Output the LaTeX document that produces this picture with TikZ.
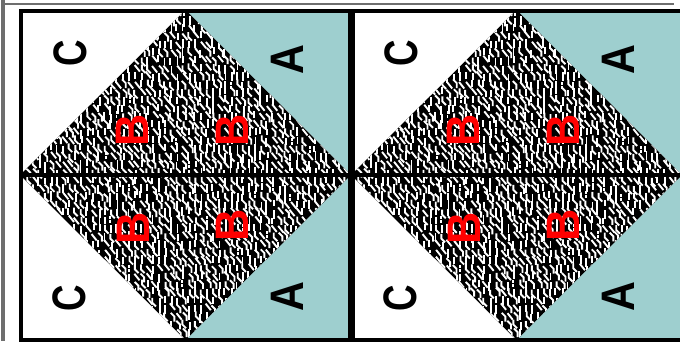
\documentclass[tikz,border=0pt]{standalone}
\usepackage{fontspec}
\setmainfont{Liberation Sans}
\definecolor{tealfill}{RGB}{158,207,207}
\definecolor{framegray}{RGB}{110,110,110}
\definecolor{lettred}{RGB}{255,0,0}
\begin{document}
\begin{tikzpicture}[x=1pt,y=-1pt,
  lett/.style={font=\fontsize{47}{47}\selectfont\bfseries, rotate=90, inner sep=0pt},
  blett/.style={lett, text=lettred},
  tex/.style={white, line width=1.9pt, line cap=rect},
  midline/.style={black, line width=4pt}]
\useasboundingbox (0,0) rectangle (680,341);
\fill[white] (0,0) rectangle (680,341);
\foreach \ox/\k in {0/1,331/2}{
\begin{scope}[xshift=\ox]
  \fill[tealfill] (185.5,10) -- (351,10) -- (351,175) -- cycle;
  \fill[tealfill] (351,175) -- (351,340) -- (185.5,340) -- cycle;
  \begin{scope}
    \clip (185.5,10) -- (351,175) -- (185.5,340) -- (20,175) -- cycle;
    \fill[black] (20,10) rectangle (351,340);
    \pgfmathsetseed{777}
    \foreach \gx in {0,...,54}{
      \foreach \gy in {0,...,41}{
        \pgfmathsetmacro\px{20+6*\gx+2*rnd}
        \pgfmathsetmacro\py{8+8*\gy+3*rnd}
        \pgfmathtruncatemacro\t{5*rnd}
        \ifcase\t \draw[tex] (\px,\py) -- ++(0,7);
        \or \draw[tex] (\px,\py) -- ++(4,5);
        \or \draw[tex] (\px,\py) -- ++(0,4) -- ++(3,3);
        \or \draw[tex] (\px,\py) -- ++(0,1.5) (\px,\py+3.5) -- ++(0,1.5);
        \else \draw[tex] (\px,\py) -- ++(3,3) -- ++(0,4);
        \fi
      }
    }
  \end{scope}
  \draw[midline] (20,175) -- (351,175);
  \node[lett] (ctop\k) at (70,53) {\scalebox{0.78}[1]{C}};
  \node[lett] (cbot\k) at (69,298) {\scalebox{0.78}[1]{C}};
  \node[lett] (atop\k) at (287,60) {\scalebox{0.88}[1]{A}};
  \node[lett] (abot\k) at (287,297) {\scalebox{0.88}[1]{A}};
  \node[blett] (b1\k) at (132,130) {\scalebox{0.95}[1]{B}};
  \node[blett] (b2\k) at (232,130) {\scalebox{0.95}[1]{B}};
  \node[blett] (b3\k) at (133,228) {\scalebox{0.95}[1]{B}};
  \node[blett] (b4\k) at (232,225) {\scalebox{0.95}[1]{B}};
\end{scope}
}
\draw[black, line width=4pt] (20.5,10.5) rectangle (684,340);
\draw[black, line width=7pt] (351,10.5) -- (351,340);
\draw[framegray, line width=4pt] (3,0) -- (3,341);
\draw[framegray, line width=2pt] (3,4) -- (674,4);
\end{tikzpicture}
\end{document}
